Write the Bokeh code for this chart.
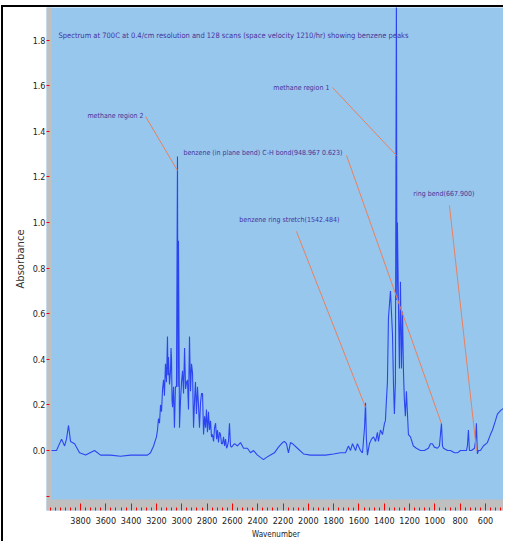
from bokeh.plotting import figure
from bokeh.models import Range1d, FixedTicker, BoxAnnotation, PrintfTickFormatter
from bokeh.core.properties import value
from bokeh.embed import file_html
from bokeh.resources import INLINE

# ---- spectrum (wavenumber cm-1, absorbance) ----
wavenumber = [4029, 3990, 3950, 3926, 3911, 3895, 3879, 3847, 3808, 3760, 3689, 3642,
              3563, 3484, 3405, 3326, 3271, 3247, 3223, 3200, 3192, 3184, 3176, 3168,
              3160, 3152, 3144, 3137, 3129, 3121, 3113, 3109, 3105, 3097, 3089, 3085,
              3081, 3077, 3073, 3065, 3058, 3050, 3042, 3034, 3030, 3026, 3018, 3010,
              3002, 2994, 2986, 2978, 2970, 2962, 2955, 2947, 2939, 2931, 2923, 2915,
              2907, 2899, 2892, 2884, 2876, 2868, 2860, 2852, 2844, 2836, 2828, 2820,
              2812, 2805, 2797, 2789, 2781, 2773, 2765, 2757, 2749, 2741, 2733, 2725,
              2718, 2710, 2702, 2694, 2686, 2678, 2670, 2662, 2654, 2646, 2639, 2631,
              2623, 2615, 2607, 2583, 2560, 2536, 2512, 2481, 2457, 2433, 2402, 2378,
              2354, 2331, 2299, 2268, 2236, 2204, 2189, 2173, 2157, 2141, 2125, 2086,
              2038, 1983, 1928, 1864, 1801, 1746, 1706, 1683, 1667, 1651, 1627, 1612,
              1588, 1572, 1556, 1548, 1541, 1533, 1517, 1501, 1485, 1469, 1454, 1446,
              1430, 1414, 1398, 1391, 1383, 1375, 1367, 1351, 1335, 1327, 1320, 1312,
              1304, 1300, 1296, 1288, 1280, 1272, 1264, 1256, 1248, 1241, 1233, 1225,
              1209, 1193, 1170, 1146, 1114, 1083, 1051, 1035, 1020, 1004, 980, 964,
              948, 940, 932, 900, 877, 845, 821, 798, 774, 751, 743, 735,
              727, 711, 687, 679, 672, 664, 656, 640, 617, 585, 561, 545,
              522, 506, 482, 459, 443]
absorbance = [0.0, 0.0, 0.05, 0.02, 0.05, 0.11, 0.04, 0.03, -0.01, -0.02, 0.0, -0.02,
              -0.02, -0.025, -0.02, -0.02, -0.02, -0.01, 0.02, 0.06, 0.09, 0.14, 0.12, 0.20,
              0.17, 0.27, 0.31, 0.24, 0.38, 0.30, 0.50, 0.33, 0.41, 0.29, 0.35, 0.45,
              0.40, 0.22, 0.19, 0.28, 0.10, 0.28, 0.28, 1.29, 0.28, 0.92, 0.10, 0.22,
              0.30, 0.35, 0.25, 0.45, 0.27, 0.30, 0.31, 0.18, 0.50, 0.26, 0.38, 0.34,
              0.10, 0.22, 0.30, 0.16, 0.28, 0.20, 0.10, 0.21, 0.25, 0.25, 0.07, 0.15,
              0.10, 0.18, 0.08, 0.17, 0.09, 0.13, 0.06, 0.07, 0.04, 0.10, 0.12, 0.05,
              0.09, 0.035, 0.08, 0.07, 0.03, 0.03, 0.06, 0.02, 0.05, 0.01, 0.02, 0.04,
              0.12, 0.02, 0.015, 0.03, 0.02, 0.035, 0.01, 0.01, -0.01, 0.0, -0.02, -0.03,
              -0.04, -0.03, -0.02, -0.01, 0.015, 0.035, 0.04, 0.03, -0.01, 0.035, 0.03, 0.01,
              -0.015, -0.02, -0.02, -0.02, -0.015, -0.01, -0.01, 0.02, 0.0, 0.03, 0.0, 0.03,
              0.0, -0.01, 0.10, 0.21, 0.05, -0.02, 0.03, 0.05, 0.06, 0.04, 0.08, 0.04,
              0.09, 0.07, 0.12, 0.13, 0.22, 0.30, 0.58, 0.70, 0.51, 0.29, 0.16, 0.30,
              2.05, 0.66, 1.00, 0.64, 0.36, 0.74, 0.36, 0.61, 0.34, 0.22, 0.15, 0.26,
              0.07, 0.06, 0.02, 0.01, 0.0, 0.0, 0.01, 0.03, 0.03, 0.015, 0.01, 0.02,
              0.12, 0.02, 0.01, 0.0, 0.0, -0.01, -0.01, 0.0, 0.0, 0.0, 0.02, 0.09,
              0.0, 0.0, 0.01, 0.04, 0.12, -0.015, 0.0, 0.0, 0.02, 0.035, 0.07, 0.09,
              0.13, 0.16, 0.175, 0.185, 0.19]

# ---- ticks ----
x_ticks = [3800, 3600, 3400, 3200, 3000, 2800, 2600, 2400, 2200, 2000, 1800,
           1600, 1400, 1200, 1000, 800, 600]
x_minor_ticks = [w for w in range(480, 4041, 40) if w not in x_ticks]
y_ticks = [0.0, 0.2, 0.4, 0.6, 0.8, 1.0, 1.2, 1.4, 1.6, 1.8]
y_unlabelled_ticks = [-0.2]

# ---- texts ----
title_text = ("Spectrum at 700C at 0.4/cm resolution and 128  scans "
              "(space velocity 1210/hr) showing benzene peaks")
title_x = [3974]
title_y = [1.82]

peak_labels = ["methane region 2", "methane region 1",
               "benzene (in plane bend) C-H bond(948.967  0.623)",
               "benzene ring stretch(1542.484)", "ring bend(667.900)"]
label_x = [3302, 1833, 1714, 1754, 687]
label_y = [1.469, 1.592, 1.303, 1.013, 1.127]
leader_x0 = [3286, 1809, 1698, 2094, 885]
leader_y0 = [1.465, 1.592, 1.294, 0.961, 1.075]
leader_x1 = [3034, 1304, 948, 1548, 671]
leader_y1 = [1.228, 1.294, 0.118, 0.189, 0.0]

NARROW = "DejaVu Sans Condensed"
TEXT_COLOR = "#46329b"

p = figure(width=502, height=536, output_backend="svg", toolbar_location=None,
           x_range=Range1d(4069, 442), y_range=Range1d(-0.263, 1.943),
           min_border_left=43, min_border_right=0, min_border_top=0,
           min_border_bottom=33,
           background_fill_color="#98c7ee", border_fill_color="white",
           outline_line_color=None)
p.grid.visible = False
p.styles = {"margin": "5px -16px -10px 1px",
            "border-top": "2px solid black",
            "border-left": "2px solid black"}

# grey tick strips
p.add_layout(BoxAnnotation(right=4029, fill_color="#c0c0c0", fill_alpha=1.0,
                           line_color=None, level="underlay"))
p.add_layout(BoxAnnotation(top=-0.215, fill_color="#c0c0c0", fill_alpha=1.0,
                           line_color=None, level="underlay"))

# spectrum
p.line(wavenumber, absorbance, line_color="#2c45f0", line_width=1.1)

# leader lines and labels
p.segment(leader_x0, leader_y0, leader_x1, leader_y1, line_color="#e8805f",
          line_width=1)
p.text(x=label_x, y=label_y, text=peak_labels, text_font=value(NARROW),
       text_font_size="7px", text_color=TEXT_COLOR, text_align="right",
       text_baseline="middle")
p.text(x=title_x, y=title_y, text=[title_text], text_font=value(NARROW),
       text_font_size="7.5px", text_color=TEXT_COLOR, text_align="left",
       text_baseline="middle")

# x axis
xa = p.xaxis[0]
xa.ticker = FixedTicker(ticks=x_ticks, minor_ticks=x_minor_ticks)
xa.axis_line_color = None
xa.major_tick_in = 7
xa.major_tick_out = 0
xa.minor_tick_in = 3
xa.minor_tick_out = 0
xa.major_tick_line_color = "red"
xa.minor_tick_line_color = "red"
xa.major_label_text_font = NARROW
xa.major_label_text_font_size = "9px"
xa.major_label_text_color = "#222222"
xa.major_label_standoff = 6
xa.axis_label = "Wavenumber"
xa.axis_label_text_font = NARROW
xa.axis_label_text_font_size = "8px"
xa.axis_label_text_font_style = "normal"
xa.axis_label_text_color = "#222222"
xa.axis_label_standoff = 3

# y axis
ya = p.yaxis[0]
ya.ticker = FixedTicker(ticks=y_ticks, minor_ticks=y_unlabelled_ticks)
ya.formatter = PrintfTickFormatter(format="%.1f")
ya.axis_line_color = None
ya.major_tick_in = 3
ya.major_tick_out = 0
ya.minor_tick_in = 3
ya.minor_tick_out = 0
ya.major_tick_line_color = "red"
ya.minor_tick_line_color = "red"
ya.major_label_text_font = NARROW
ya.major_label_text_font_size = "9px"
ya.major_label_text_color = "#222222"
ya.major_label_standoff = 1
ya.axis_label = "Absorbance"
ya.axis_label_text_font = "DejaVu Sans"
ya.axis_label_text_font_size = "10px"
ya.axis_label_text_font_style = "normal"
ya.axis_label_text_color = "#333333"
ya.axis_label_standoff = 4

open("out.html", "w").write(file_html(p, INLINE))
